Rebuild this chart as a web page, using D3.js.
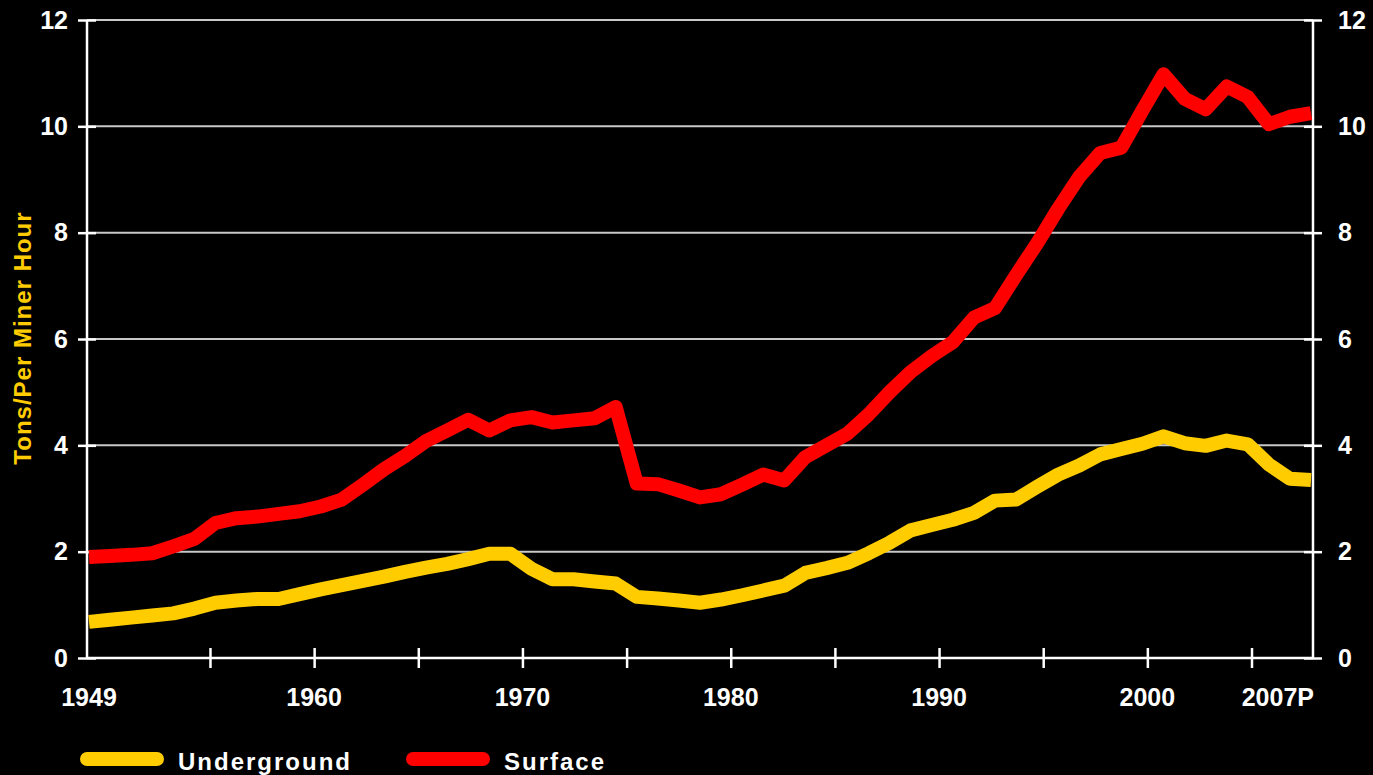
<!DOCTYPE html>
<html>
<head>
<meta charset="utf-8">
<script src="https://cdn.jsdelivr.net/npm/d3@7"></script>
<style>
  html, body { margin: 0; padding: 0; background: #000; }
  svg { display: block; }
  text { font-family: "Liberation Sans", Arial, sans-serif; font-weight: bold; }
</style>
</head>
<body>
<svg id="chart" width="1373" height="775"></svg>
<script>
// coal mining productivity, tons per miner hour, 1949-2007
const years = d3.range(1949, 2008);

const underground = [
  0.68, 0.72, 0.76, 0.80, 0.84, 0.93, 1.04, 1.08, 1.11, 1.11,
  1.20, 1.29, 1.37, 1.45, 1.53, 1.62, 1.70, 1.77, 1.86, 1.96,
  1.96, 1.68, 1.48, 1.48, 1.44, 1.40, 1.15, 1.12, 1.08, 1.04,
  1.10, 1.18, 1.27, 1.36, 1.60, 1.69, 1.79, 1.97, 2.17, 2.40,
  2.50, 2.60, 2.73, 2.96, 2.98, 3.22, 3.45, 3.62, 3.83, 3.93,
  4.03, 4.17, 4.04, 3.99, 4.09, 4.02, 3.64, 3.37, 3.35
];

const surface = [
  1.90, 1.92, 1.94, 1.97, 2.10, 2.24, 2.54, 2.63, 2.66, 2.71,
  2.76, 2.85, 2.98, 3.26, 3.55, 3.80, 4.08, 4.28, 4.48, 4.28,
  4.47, 4.53, 4.43, 4.47, 4.51, 4.72, 3.28, 3.27, 3.15, 3.02,
  3.08, 3.26, 3.45, 3.34, 3.78, 4.00, 4.22, 4.58, 5.00, 5.38,
  5.68, 5.94, 6.40, 6.58, 7.20, 7.80, 8.45, 9.05, 9.50, 9.60,
  10.30, 10.98, 10.52, 10.32, 10.75, 10.55, 10.04, 10.18, 10.25
];

const yTicks = [0, 2, 4, 6, 8, 10, 12];
const xTickYears = [1955, 1960, 1965, 1970, 1975, 1980, 1985, 1990, 1995, 2000, 2005];
const xLabels = ["1949", "1960", "1970", "1980", "1990", "2000", "2007P"];
const xLabelYears = [1949, 1960, 1970, 1980, 1990, 2000, 2008];

const seriesNames = ["Underground", "Surface"];
const seriesColors = ["#ffcc00", "#ff0000"];

const svg = d3.select("#chart");
const plotL = 87, plotR = 1313, plotT = 20, plotB = 658;

const y = d3.scaleLinear().domain([0, 12]).range([plotB, plotT]);
// data points and axis ticks do not sit on quite the same grid in the original
const x = d3.scaleLinear().domain([1949, 2007]).range([89, 1311]);
const xt = d3.scaleLinear().domain([1949, 2008]).range([85, 1314]);

// gridlines
svg.append("g")
  .selectAll("line")
  .data(yTicks.filter(d => d > 0))
  .join("line")
  .attr("x1", plotL).attr("x2", plotR)
  .attr("y1", d => y(d)).attr("y2", d => y(d))
  .attr("stroke", "#c8c8c8")
  .attr("stroke-width", 2);

// left and right axes
const yAxisL = d3.axisLeft(y).tickValues(yTicks).tickSize(10).tickPadding(9).tickFormat(d3.format("d"));
const yAxisR = d3.axisRight(y).tickValues(yTicks).tickSize(10).tickPadding(15).tickFormat(d3.format("d"));

function styleAxis(g) {
  g.select(".domain").remove();
  g.selectAll(".tick line").attr("stroke", "#fff").attr("stroke-width", 2.5);
  g.selectAll(".tick text").attr("fill", "#fff").attr("font-size", 25).attr("font-family", null);
}

svg.append("g").attr("transform", `translate(${plotL},0)`).call(yAxisL).call(styleAxis)
  .selectAll(".tick line").attr("x2", 9).attr("x1", -9);
svg.append("g").attr("transform", `translate(${plotR},0)`).call(yAxisR).call(styleAxis)
  .selectAll(".tick line").attr("x1", -9).attr("x2", 9);

// x axis
const xAxis = d3.axisBottom(xt).tickValues(xTickYears).tickSize(10).tickFormat("");
svg.append("g").attr("transform", `translate(0,${plotB})`).call(xAxis)
  .call(g => g.select(".domain").remove())
  .selectAll(".tick line")
  .attr("y1", -10).attr("y2", 10)
  .attr("stroke", "#fff").attr("stroke-width", 2.5);

svg.append("g")
  .selectAll("text")
  .data(xLabels)
  .join("text")
  .attr("x", (d, i) => i === xLabels.length - 1 ? xt(xLabelYears[i]) : xt(xLabelYears[i]) + (i === 0 ? 4 : 0))
  .attr("y", 706)
  .attr("text-anchor", (d, i) => i === xLabels.length - 1 ? "end" : "middle")
  .attr("fill", "#fff")
  .attr("font-size", 25)
  .text(d => d);

// frame lines
svg.append("path")
  .attr("d", `M${plotL},${plotT}V${plotB}H${plotR}V${plotT}`)
  .attr("fill", "none")
  .attr("stroke", "#fff")
  .attr("stroke-width", 2.5);

// series
const line = d3.line()
  .x((d, i) => x(years[i]))
  .y(d => y(d));

[underground, surface].forEach((vals, k) => {
  svg.append("path")
    .datum(vals)
    .attr("d", line)
    .attr("fill", "none")
    .attr("stroke", seriesColors[k])
    .attr("stroke-width", 14)
    .attr("stroke-linejoin", "round")
    .attr("stroke-linecap", "butt");
});

// y axis title
svg.append("text")
  .attr("transform", "translate(31,338) rotate(-90)")
  .attr("text-anchor", "middle")
  .attr("fill", "#ffcc00")
  .attr("font-size", 24)
  .attr("letter-spacing", 1)
  .text("Tons/Per Miner Hour");

// legend
const legendX = [87, 413];
const legend = svg.append("g");
seriesNames.forEach((name, k) => {
  legend.append("line")
    .attr("x1", legendX[k]).attr("x2", legendX[k] + 70)
    .attr("y1", 759).attr("y2", 759)
    .attr("stroke", seriesColors[k])
    .attr("stroke-width", 14)
    .attr("stroke-linecap", "round");
  legend.append("text")
    .attr("x", legendX[k] + 91)
    .attr("y", 770)
    .attr("fill", "#fff")
    .attr("font-size", 24)
    .attr("letter-spacing", 2)
    .text(name);
});
</script>
</body>
</html>
